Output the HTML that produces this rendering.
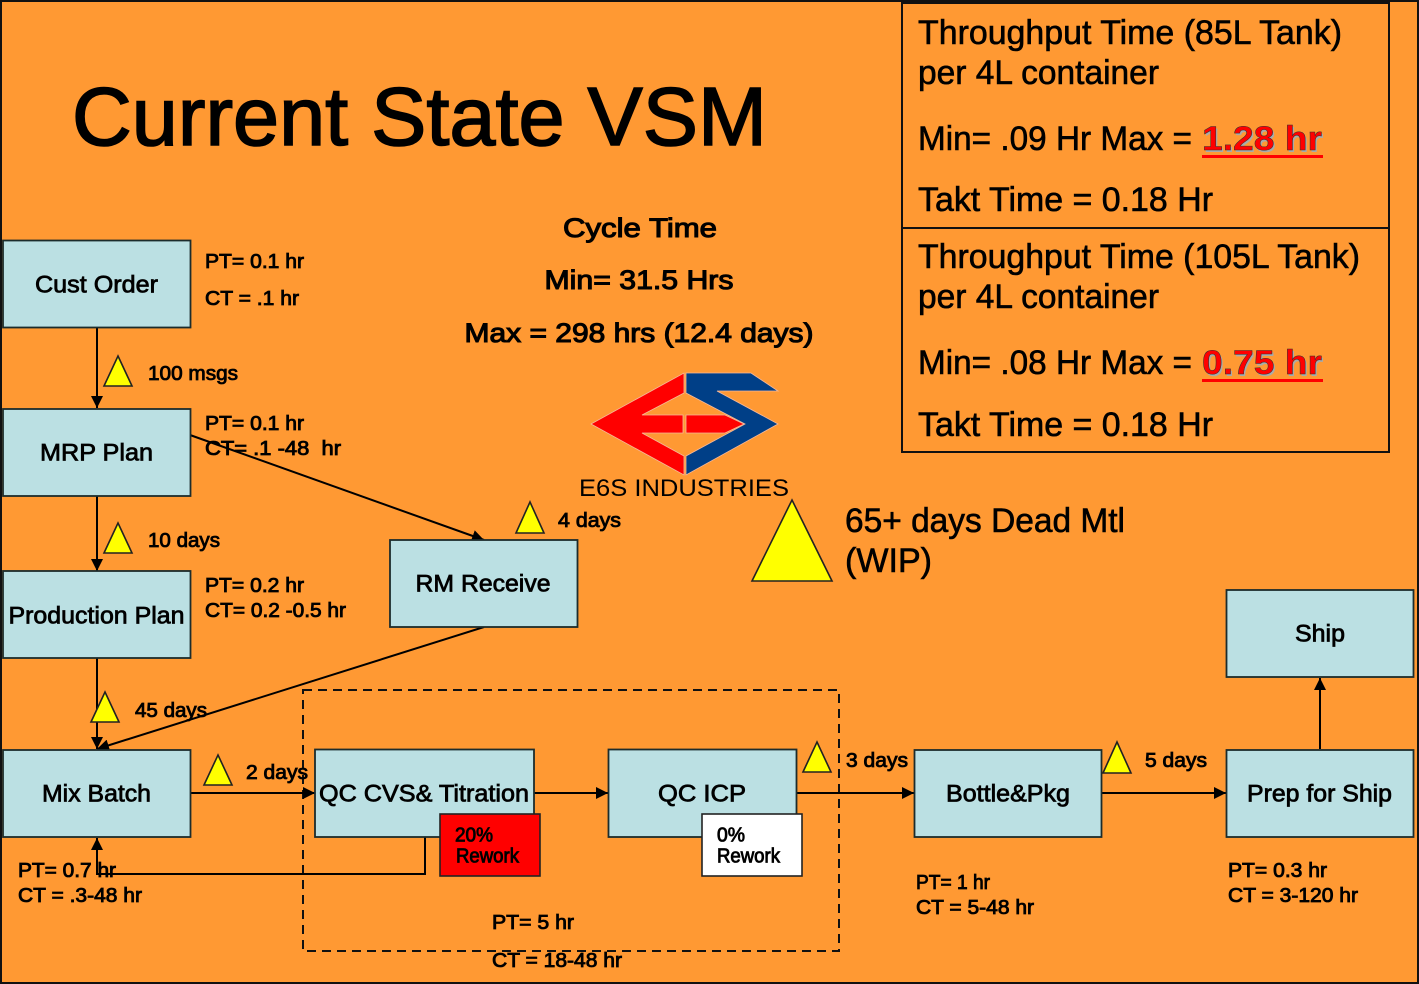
<!DOCTYPE html>
<html lang="en"><head><meta charset="utf-8"><title>Current State VSM</title>
<style>
html,body{margin:0;padding:0;background:#FF9933}
svg{display:block}
text{font-family:"Liberation Sans",Arial,sans-serif;fill:#000}
.s{font-size:20px;stroke:#000;stroke-width:.85px}
.b{font-size:24px;stroke:#000;stroke-width:.75px}
.c{font-size:27px;stroke:#000;stroke-width:1.1px}
.p{font-size:34px;stroke:#000;stroke-width:.6px}
.r{font-size:34px;font-weight:bold;fill:#f00}
.box{fill:#BBE0E3;stroke:#1c2c2c;stroke-width:1.8}
.tri{fill:#FF0;stroke:#222;stroke-width:1.6}
.l{stroke:#000;stroke-width:2;fill:none}
</style></head><body>
<svg xmlns="http://www.w3.org/2000/svg" width="1419" height="984" viewBox="0 0 1419 984">
<defs><marker id="a" markerWidth="13" markerHeight="12" refX="12" refY="6" orient="auto" markerUnits="userSpaceOnUse"><path d="M0 0L12 6L0 12Z" fill="#000"/></marker></defs>
<rect x="1" y="1" width="1417" height="982" fill="#FF9933" stroke="#111" stroke-width="2"/>

<text x="72" y="145" font-size="83" textLength="695" lengthAdjust="spacingAndGlyphs" stroke="#000" stroke-width="1.6">Current State VSM</text>

<!-- top right boxes -->
<rect x="902" y="3" width="487" height="225" fill="none" stroke="#111" stroke-width="2"/>
<rect x="902" y="228" width="487" height="224" fill="none" stroke="#111" stroke-width="2"/>
<text class="p" x="918" y="44" textLength="424" lengthAdjust="spacingAndGlyphs">Throughput Time (85L Tank)</text>
<text class="p" x="918" y="84" textLength="241" lengthAdjust="spacingAndGlyphs">per 4L container</text>
<text class="p" x="918" y="150" textLength="274" lengthAdjust="spacingAndGlyphs">Min= .09 Hr Max =</text>
<text class="r" x="1203.500" y="152" textLength="120" lengthAdjust="spacingAndGlyphs" style="fill:#aaa">1.28 hr</text>
<text class="r" x="1202" y="150" textLength="120" lengthAdjust="spacingAndGlyphs" stroke="#333" stroke-width=".5">1.28 hr</text>
<rect x="1202" y="155" width="121" height="3" fill="#f00"/>
<text class="p" x="918" y="211" textLength="295" lengthAdjust="spacingAndGlyphs">Takt Time = 0.18 Hr</text>
<text class="p" x="918" y="268" textLength="442" lengthAdjust="spacingAndGlyphs">Throughput Time (105L Tank)</text>
<text class="p" x="918" y="308" textLength="241" lengthAdjust="spacingAndGlyphs">per 4L container</text>
<text class="p" x="918" y="374" textLength="274" lengthAdjust="spacingAndGlyphs">Min= .08 Hr Max =</text>
<text class="r" x="1203.500" y="376" textLength="120" lengthAdjust="spacingAndGlyphs" style="fill:#aaa">0.75 hr</text>
<text class="r" x="1202" y="374" textLength="120" lengthAdjust="spacingAndGlyphs" stroke="#333" stroke-width=".5">0.75 hr</text>
<rect x="1202" y="379" width="121" height="3" fill="#f00"/>
<text class="p" x="918" y="436" textLength="295" lengthAdjust="spacingAndGlyphs">Takt Time = 0.18 Hr</text>

<!-- cycle time -->
<text class="c" x="640" y="237" text-anchor="middle" textLength="154" lengthAdjust="spacingAndGlyphs">Cycle Time</text>
<text class="c" x="639" y="289" text-anchor="middle" textLength="189" lengthAdjust="spacingAndGlyphs">Min= 31.5 Hrs</text>
<text class="c" x="639" y="342" text-anchor="middle" textLength="349" lengthAdjust="spacingAndGlyphs">Max = 298 hrs (12.4 days)</text>

<!-- logo -->
<g stroke="#f5b89a" stroke-width=".8">
<path fill="#f00" d="M684 373V393L642 415H683V433H642L684 456V475L591 424Z"/>
<path fill="#f00" d="M686 415H725L744 424L725 433H686Z"/>
<path fill="#003F87" d="M686 373H751L778 391H717L778 424L686 475V456L745 424L686 393Z"/>
</g>
<text x="579" y="496" font-size="24" textLength="210" lengthAdjust="spacingAndGlyphs" fill="#111">E6S INDUSTRIES</text>

<!-- WIP -->
<path class="tri" d="M792 500L832 581H752Z"/>
<text x="845" y="532" font-size="34" textLength="280" lengthAdjust="spacingAndGlyphs" stroke="#000" stroke-width=".6">65+ days Dead Mtl</text>
<text x="845" y="572" font-size="34" textLength="87" lengthAdjust="spacingAndGlyphs" stroke="#000" stroke-width=".6">(WIP)</text>

<!-- dashed -->
<rect x="303" y="690" width="536" height="261" fill="none" stroke="#111" stroke-width="2" stroke-dasharray="9 6"/>

<!-- connectors -->
<path class="l" marker-end="url(#a)" d="M97 328V408"/>
<path class="l" marker-end="url(#a)" d="M97 496V571"/>
<path class="l" marker-end="url(#a)" d="M97 658V749"/>
<path class="l" marker-end="url(#a)" d="M190 435L484 540"/>
<path class="l" marker-end="url(#a)" d="M484 627L97 749"/>
<path class="l" marker-end="url(#a)" d="M190 793H315"/>
<path class="l" marker-end="url(#a)" d="M534 793H608"/>
<path class="l" marker-end="url(#a)" d="M796 793H914"/>
<path class="l" marker-end="url(#a)" d="M1102 793H1226"/>
<path class="l" marker-end="url(#a)" d="M1320 749V678"/>
<path class="l" marker-end="url(#a)" d="M425 837V874H97V838"/>

<!-- boxes -->
<g>
<rect class="box" x="3" y="240.500" width="187.500" height="87"/>
<rect class="box" x="3" y="409" width="187.500" height="87"/>
<rect class="box" x="3" y="571" width="187.500" height="87"/>
<rect class="box" x="3" y="750" width="187.500" height="87"/>
<rect class="box" x="390" y="540" width="187.500" height="87"/>
<rect class="box" x="315" y="749.500" width="219" height="87.500"/>
<rect class="box" x="608.500" y="749.500" width="188" height="87.500"/>
<rect class="box" x="914.500" y="750" width="187" height="87"/>
<rect class="box" x="1226.500" y="750" width="187" height="87"/>
<rect class="box" x="1226.500" y="590" width="187" height="87"/>
</g>
<rect x="440" y="814" width="100" height="62" fill="#f00" stroke="#222" stroke-width="1.6"/>
<rect x="702" y="814" width="100" height="62" fill="#fff" stroke="#222" stroke-width="1.6"/>

<g class="lbl">
<text class="b" x="96.500" y="292.500" text-anchor="middle" textLength="123" lengthAdjust="spacingAndGlyphs">Cust Order</text>
<text class="b" x="96.500" y="460.500" text-anchor="middle" textLength="113" lengthAdjust="spacingAndGlyphs">MRP Plan</text>
<text class="b" x="96.500" y="623.500" text-anchor="middle" textLength="176" lengthAdjust="spacingAndGlyphs">Production Plan</text>
<text class="b" x="96.500" y="801.500" text-anchor="middle" textLength="109" lengthAdjust="spacingAndGlyphs">Mix Batch</text>
<text class="b" x="483" y="591.500" text-anchor="middle" textLength="135" lengthAdjust="spacingAndGlyphs">RM Receive</text>
<text class="b" x="424" y="801.500" text-anchor="middle" textLength="210" lengthAdjust="spacingAndGlyphs">QC CVS&amp; Titration</text>
<text class="b" x="702" y="801.500" text-anchor="middle" textLength="88" lengthAdjust="spacingAndGlyphs">QC ICP</text>
<text class="b" x="1008" y="801.500" text-anchor="middle" textLength="124" lengthAdjust="spacingAndGlyphs">Bottle&amp;Pkg</text>
<text class="b" x="1319.500" y="801.500" text-anchor="middle" textLength="145" lengthAdjust="spacingAndGlyphs">Prep for Ship</text>
<text class="b" x="1320" y="641.500" text-anchor="middle" textLength="50" lengthAdjust="spacingAndGlyphs">Ship</text>
</g>

<text class="s" x="455" y="841.500" textLength="38" lengthAdjust="spacingAndGlyphs">20%</text>
<text class="s" x="456" y="862.500" textLength="63" lengthAdjust="spacingAndGlyphs">Rework</text>
<text class="s" x="717" y="841.500" textLength="28" lengthAdjust="spacingAndGlyphs">0%</text>
<text class="s" x="717" y="862.500" textLength="63" lengthAdjust="spacingAndGlyphs">Rework</text>

<!-- triangles -->
<path class="tri" d="M118 356L132 386H104Z"/>
<path class="tri" d="M118 523L132 553H104Z"/>
<path class="tri" d="M105 692L119 722H91Z"/>
<path class="tri" d="M218 755L232 785H204Z"/>
<path class="tri" d="M530 502L544 533H516Z"/>
<path class="tri" d="M817 742L831 772H803Z"/>
<path class="tri" d="M1117 742L1131 773H1103Z"/>

<!-- small labels -->
<text class="s" x="205" y="268" textLength="99" lengthAdjust="spacingAndGlyphs">PT= 0.1 hr</text>
<text class="s" x="205" y="305" textLength="94" lengthAdjust="spacingAndGlyphs">CT = .1 hr</text>
<text class="s" x="148" y="380" textLength="90" lengthAdjust="spacingAndGlyphs">100 msgs</text>
<text class="s" x="205" y="430" textLength="99" lengthAdjust="spacingAndGlyphs">PT= 0.1 hr</text>
<text class="s" x="205" y="455" textLength="136" lengthAdjust="spacingAndGlyphs" xml:space="preserve">CT= .1 -48  hr</text>
<text class="s" x="148" y="547" textLength="72" lengthAdjust="spacingAndGlyphs">10 days</text>
<text class="s" x="205" y="592" textLength="99" lengthAdjust="spacingAndGlyphs">PT= 0.2 hr</text>
<text class="s" x="205" y="617" textLength="141" lengthAdjust="spacingAndGlyphs">CT= 0.2 -0.5 hr</text>
<text class="s" x="558" y="527" textLength="63" lengthAdjust="spacingAndGlyphs">4 days</text>
<text class="s" x="135" y="717" textLength="72" lengthAdjust="spacingAndGlyphs">45 days</text>
<text class="s" x="246" y="779" textLength="62" lengthAdjust="spacingAndGlyphs">2 days</text>
<text class="s" x="846" y="767" textLength="62" lengthAdjust="spacingAndGlyphs">3 days</text>
<text class="s" x="1145" y="767" textLength="62" lengthAdjust="spacingAndGlyphs">5 days</text>
<text class="s" x="18" y="877" textLength="98" lengthAdjust="spacingAndGlyphs">PT= 0.7 hr</text>
<text class="s" x="18" y="902" textLength="124" lengthAdjust="spacingAndGlyphs">CT = .3-48 hr</text>
<text class="s" x="492" y="929" textLength="82" lengthAdjust="spacingAndGlyphs">PT= 5 hr</text>
<text class="s" x="492" y="967" textLength="130" lengthAdjust="spacingAndGlyphs">CT = 18-48 hr</text>
<text class="s" x="916" y="889" textLength="74" lengthAdjust="spacingAndGlyphs">PT= 1 hr</text>
<text class="s" x="916" y="914" textLength="118" lengthAdjust="spacingAndGlyphs">CT = 5-48 hr</text>
<text class="s" x="1228" y="877" textLength="99" lengthAdjust="spacingAndGlyphs">PT= 0.3 hr</text>
<text class="s" x="1228" y="902" textLength="130" lengthAdjust="spacingAndGlyphs">CT = 3-120 hr</text>
</svg>
</body></html>
